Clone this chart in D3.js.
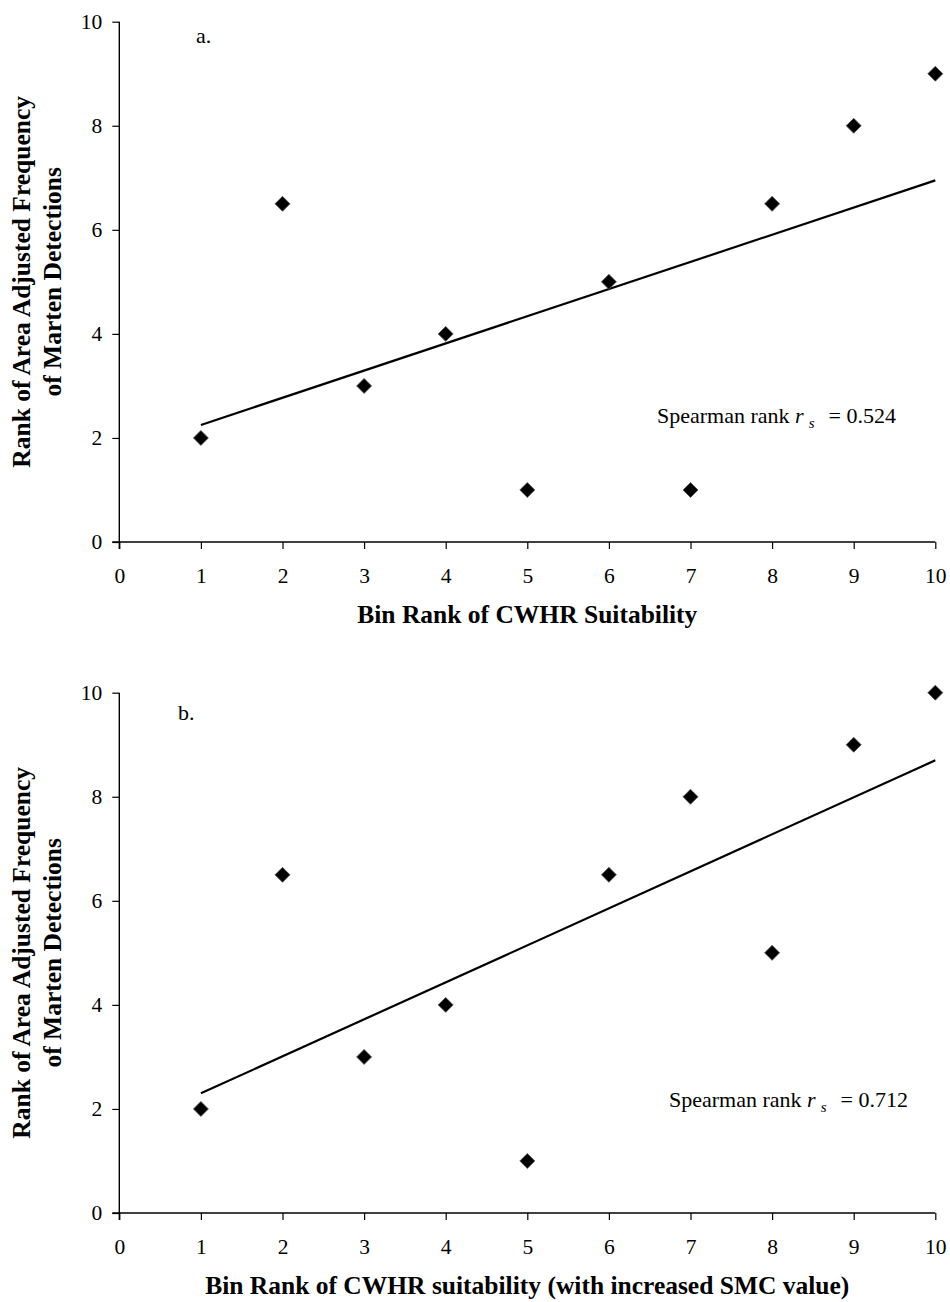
<!DOCTYPE html>
<html>
<head>
<meta charset="utf-8">
<script src="https://cdn.jsdelivr.net/npm/d3@7"></script>
<style>
  body { margin: 0; background: #fff; }
  svg { display: block; font-family: "Liberation Serif", "Times New Roman", serif; }
  .tick text { font-family: "Liberation Serif", "Times New Roman", serif; font-size: 21.5px; fill: #000; }
  .titulo { font-size: 25.5px; font-weight: bold; fill: #000; }
  .nota { font-size: 22px; fill: #000; }
</style>
</head>
<body>
<div id="chart"></div>
<script>
//Datos
const rangos = [1, 2, 3, 4, 5, 6, 7, 8, 9, 10];
const deteccionesA = [2, 6.5, 3, 4, 1, 5, 1, 6.5, 8, 9];
const deteccionesB = [2, 6.5, 3, 4, 1, 6.5, 8, 5, 9, 10];
//Extremos de la recta de tendencia
const tendenciaA = [[1, 2.25], [10, 6.95]];
const tendenciaB = [[1, 2.3], [10, 8.7]];
const ticksX = [0, 1, 2, 3, 4, 5, 6, 7, 8, 9, 10];
const ticksY = [0, 2, 4, 6, 8, 10];

const paneles = [
    { letra: 'a.', valores: deteccionesA, tendencia: tendenciaA, rs: '0.524',
      xTitulo: 'Bin Rank of CWHR Suitability', top: 21.7, notaX: 657, notaY: 423, letraX: 196, letraY: 43 },
    { letra: 'b.', valores: deteccionesB, tendencia: tendenciaB, rs: '0.712',
      xTitulo: 'Bin Rank of CWHR suitability (with increased SMC value)', top: 692.7, notaX: 669, notaY: 1107, letraX: 178, letraY: 720 }
];

let width = 950, height = 1302;
let left = 119.3, right = 935.3, plotH = 520.3;

let svg = d3.select('#chart')
    .append('svg')
    .attr('width', width)
    .attr('height', height);

let x = d3.scaleLinear()
    .domain([0, 10])
    .range([left, right]);

paneles.forEach(function(p) {
    let y = d3.scaleLinear()
        .domain([0, 10])
        .range([p.top + plotH, p.top]);

    let g = svg.append('g');

    //Eje X
    g.append('g')
        .attr('transform', 'translate(0,' + y(0) + ')')
        .call(d3.axisBottom(x).tickValues(ticksX).tickSize(7).tickPadding(19).tickSizeOuter(0))
        .attr('font-family', null)
        .attr('font-size', null)
        .call(function(g) {
            g.select('.domain').attr('stroke', '#000').attr('stroke-width', 1.4)
                .attr('d', 'M' + (left - 7) + ',0H' + right);
            g.selectAll('.tick line').attr('stroke', '#000').attr('stroke-width', 1.2);
        });

    //Eje Y
    g.append('g')
        .attr('transform', 'translate(' + left + ',0)')
        .call(d3.axisLeft(y).tickValues(ticksY).tickSize(7).tickPadding(10).tickSizeOuter(0))
        .attr('font-family', null)
        .attr('font-size', null)
        .call(function(g) {
            g.select('.domain').attr('stroke', '#000').attr('stroke-width', 1.4)
                .attr('d', 'M0,' + (y(0) + 7) + 'V' + y(10));
            g.selectAll('.tick line').attr('stroke', '#000').attr('stroke-width', 1.2);
        });

    //Recta de tendencia
    g.append('path')
        .datum(p.tendencia)
        .attr('fill', 'none')
        .attr('stroke', '#000')
        .attr('stroke-width', 2.2)
        .attr('d', d3.line().x(function(d) { return x(d[0]); }).y(function(d) { return y(d[1]); }));

    //Puntos (rombos)
    g.selectAll('.punto')
        .data(rangos.map(function(r, i) { return { x: r, y: p.valores[i] }; }))
        .enter()
        .append('path')
        .attr('class', 'punto')
        .attr('d', d3.symbol().type(d3.symbolSquare).size(112))
        .attr('transform', function(d) { return 'translate(' + x(d.x) + ',' + y(d.y) + ') rotate(45)'; })
        .attr('fill', '#000')
        .attr('stroke', '#555')
        .attr('stroke-width', 0.8);

    //Letra del panel
    g.append('text')
        .attr('class', 'nota')
        .attr('x', p.letraX)
        .attr('y', p.letraY)
        .text(p.letra);

    //Spearman
    let nota = g.append('text')
        .attr('class', 'nota')
        .attr('x', p.notaX)
        .attr('y', p.notaY);
    nota.append('tspan').text('Spearman rank ');
    nota.append('tspan').attr('font-style', 'italic').text('r');
    nota.append('tspan').attr('font-style', 'italic').attr('font-size', 15).attr('dx', 5).attr('dy', 5).text('s');
    nota.append('tspan').attr('dy', -5).attr('dx', 3).text(' \u00A0= ' + p.rs);

    //Título eje X
    g.append('text')
        .attr('class', 'titulo')
        .attr('text-anchor', 'middle')
        .attr('x', (left + right) / 2)
        .attr('y', y(0) + 81)
        .text(p.xTitulo);

    //Título eje Y
    let cy = (y(0) + y(10)) / 2;
    let yt = g.append('text')
        .attr('class', 'titulo')
        .attr('text-anchor', 'middle')
        .attr('transform', 'translate(30,' + cy + ') rotate(-90)');
    yt.append('tspan').attr('x', 0).attr('y', 0).text('Rank of Area Adjusted Frequency');
    yt.append('tspan').attr('x', 0).attr('y', 31).text('of Marten Detections');
});
</script>
</body>
</html>
